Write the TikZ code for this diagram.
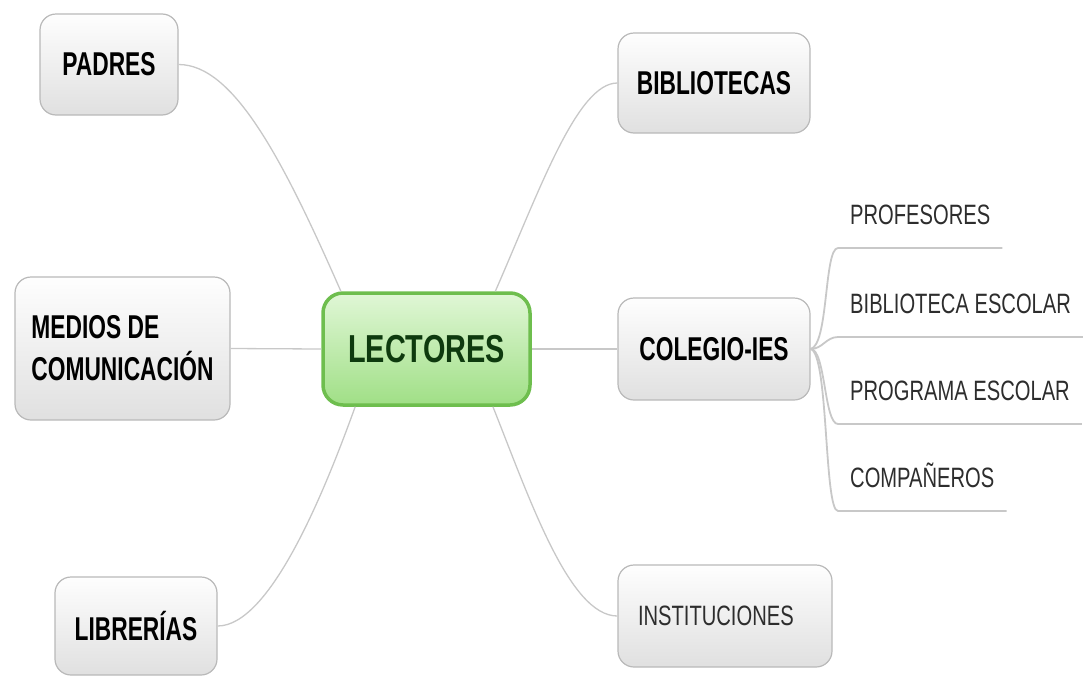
\documentclass[tikz,border=0pt]{standalone}
\usepackage{fontspec}
\usepackage{xcolor}
\usepackage{tikz}
\usetikzlibrary{positioning, calc}
\newfontfamily\boxfont[FakeStretch=0.69]{Liberation Sans}
\newfontfamily\subfont[FakeStretch=0.72]{Liberation Sans}
\newfontfamily\hubfont[FakeStretch=0.74]{Liberation Sans}
\definecolor{boxborder}{RGB}{185, 185, 185}
\definecolor{boxtop}{RGB}{254, 254, 254}
\definecolor{boxbottom}{RGB}{224, 224, 224}
\definecolor{linkgray}{RGB}{200, 200, 200}
\definecolor{hubborder}{RGB}{110, 190, 78}
\definecolor{hubtop}{RGB}{224, 247, 214}
\definecolor{hubbottom}{RGB}{160, 223, 134}
\definecolor{hubtext}{RGB}{14, 58, 14}
\definecolor{subtext}{RGB}{45, 45, 45}
\tikzset{
  topicbox/.style={rectangle, rounded corners=16pt, draw=boxborder, line width=1.2pt,
              top color=boxtop, bottom color=boxbottom, minimum width=#1,
              align=center, inner sep=0pt,
              font=\boxfont\bfseries\fontsize{33}{42}\selectfont},
  topicbox/.default=190pt,
  hubbox/.style={rectangle, rounded corners=20pt, draw=hubborder, line width=3.5pt,
              top color=hubtop, bottom color=hubbottom, minimum width=207pt,
              minimum height=112pt, inner sep=0pt, text=hubtext,
              font=\hubfont\bfseries\fontsize{39}{44}\selectfont},
  subitem/.style={anchor=south west, inner xsep=12pt, inner ysep=0pt,
              text depth=23pt, text=subtext,
              font=\subfont\fontsize{28}{32}\selectfont},
  link/.style={draw=linkgray, line width=1.3pt},
  sublink/.style={draw=linkgray, line width=1.8pt},
}

\begin{document}
\begin{tikzpicture}[x=1pt, y=-1pt]
  \useasboundingbox (0,0) rectangle (1083,675);

  % central topic
  \node[hubbox] (lectores) at (426.5,349) {LECTORES};

  % main branches
  \node[topicbox=138pt, minimum height=101pt] (padres) at (109,64.5) {PADRES};
  \node[topicbox=215pt, minimum height=143pt, align=left] (medios) at (122.5,348.5)
        {MEDIOS DE\\COMUNICACIÓN};
  \node[topicbox=162pt, minimum height=98pt] (librerias) at (136,626) {LIBRERÍAS};
  \node[topicbox=192pt, minimum height=100pt] (bibliotecas) at (714,83) {BIBLIOTECAS};
  \node[topicbox=192pt, minimum height=102pt] (colegio) at (714,349) {COLEGIO-IES};
  \node[topicbox=214pt, minimum height=102pt, text width=174pt, align=left,
        font=\subfont\fontsize{28}{32}\selectfont, text=subtext] (instituciones) at (725,616)
        {INSTITUCIONES};

  % sub-items of COLEGIO-IES
  \node[subitem] (profesores) at (838,248) {PROFESORES};
  \node[subitem] (bibescolar) at (838,337) {BIBLIOTECA ESCOLAR};
  \node[subitem] (programa) at (838,424) {PROGRAMA ESCOLAR};
  \node[subitem] (companeros) at (838,511) {COMPAÑEROS};

  \path[link] (padres.east) .. controls +(55,0) and +(-58,-132) .. (lectores.146);
  \path[link] (medios.east) -- (lectores.west);
  \path[link] (librerias.east) .. controls +(53,0) and +(-30,83) .. (lectores.219);
  \path[link] (bibliotecas.west) .. controls +(-40,0) and +(45,-103) .. (lectores.40);
  \path[link] (lectores.east) -- (colegio.west);
  \path[link] (instituciones.west) .. controls +(-48,0) and +(37,93) .. (lectores.319);

  \path[sublink] (colegio.east) .. controls +(18,-4) and +(-14,0) .. (profesores.south west)
        -- (profesores.south east);
  \path[sublink] (colegio.east) .. controls +(12,0) and +(-12,0) .. (bibescolar.south west)
        -- (bibescolar.south east);
  \path[sublink] (colegio.east) .. controls +(15,0) and +(-14,0) .. (programa.south west)
        -- (programa.south east);
  \path[sublink] (colegio.east) .. controls +(18,4) and +(-14,0) .. (companeros.south west)
        -- (companeros.south east);
\end{tikzpicture}
\end{document}
